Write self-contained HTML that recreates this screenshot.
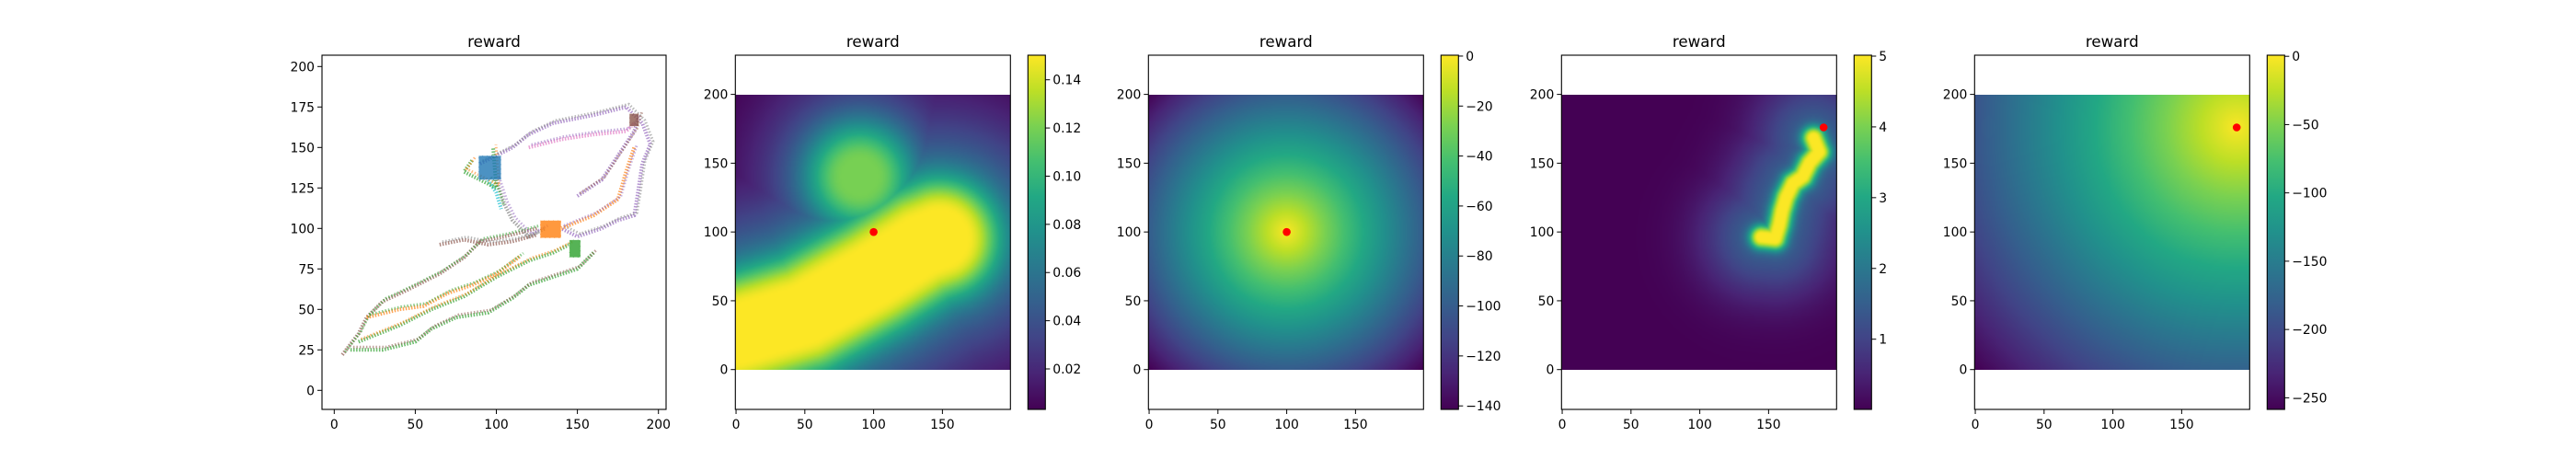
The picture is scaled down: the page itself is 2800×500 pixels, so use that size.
<!DOCTYPE html>
<html><head><meta charset="utf-8">
<style>
html,body{margin:0;padding:0;background:#fff;}
#wrap{position:relative;width:2800px;height:500px;overflow:hidden;}
canvas{position:absolute;}
svg{position:absolute;left:0;top:0;}
text{font-family:"DejaVu Sans","Liberation Sans",sans-serif;fill:#000;}
</style></head>
<body>
<div id="wrap">
<canvas id="c2" width="200" height="200"></canvas>
<canvas id="c3" width="200" height="200"></canvas>
<canvas id="c4" width="200" height="200"></canvas>
<canvas id="c5" width="200" height="200"></canvas>
<svg id="svg" width="2800" height="500" xmlns="http://www.w3.org/2000/svg"></svg>
</div>
<script>
// ---------- data ----------
const xTicks1 = [0, 50, 100, 150, 200];
const yTicks1 = [0, 25, 50, 75, 100, 125, 150, 175, 200];
const xTicksImg = [0, 50, 100, 150];
const yTicksImg = [0, 50, 100, 150, 200];
const cbarTicks2 = [0.02, 0.04, 0.06, 0.08, 0.10, 0.12, 0.14];
const cbarLabels2 = ["0.02","0.04","0.06","0.08","0.10","0.12","0.14"];
const cbarTicks3 = [0, -20, -40, -60, -80, -100, -120, -140];
const cbarTicks4 = [1, 2, 3, 4, 5];
const cbarTicks5 = [0, -50, -100, -150, -200, -250];
const cbarRange2 = [0.0032, 0.1502];
const cbarRange3 = [-141.4, 0.35];
const cbarRange4 = [0.008, 5.013];
const cbarRange5 = [-258.5, 0.8];
// panel 1 trajectories
const trajColors = ["#2ca02c","#9467bd","#ff7f0e","#8c564b","#2ca02c","#7f7f7f","#17becf","#9467bd","#8c564b","#ff7f0e","#e377c2","#2ca02c"];
const trajAlt = ["#8c564b","#7f7f7f","#9467bd","#2ca02c","#ff7f0e","#9467bd","#2ca02c","#8c564b","#7f7f7f","#2ca02c","#9467bd","#ff7f0e"];
const trajX = [
 [10,30,50,60,75,95,110,120,135,150,160],
 [90,110,120,135,160,180,190,195,190,187,185,175,165,150,140],
 [140,160,175,180,185],
 [5,15,20,30,45,65,80,90,105,125],
 [15,40,60,80,100,120,135,145],
 [100,105,110,120,130],
 [95,100,103],
 [150,165,175,185,188],
 [65,80,95,110,125],
 [20,40,55,70,85,100,115],
 [120,140,160,180,185],
 [85,80,90,100,98]
];
const trajY = [
 [25,25,30,38,45,48,57,65,70,75,85],
 [140,150,158,165,170,175,165,152,140,120,108,105,100,95,100],
 [100,108,118,135,150],
 [22,35,45,55,62,72,82,92,95,100],
 [30,40,50,58,70,80,85,90],
 [130,115,105,95,100],
 [130,122,112],
 [120,130,145,160,170],
 [90,93,90,92,96],
 [45,50,52,60,65,72,83],
 [150,155,158,160,165],
 [142,135,130,125,150]
];
const blobColors = ["#1f77b4","#ff7f0e","#2ca02c","#8c564b"];
const blobX0 = [89,127,145,182];
const blobX1 = [103,140,152,188];
const blobY0 = [130,94,82,163];
const blobY1 = [145,105,93,171];
// panel 2 field
const bandX = [0,50,100,135,148];
const bandY = [25,40,68,90,95];
const p2BlobX = [90];
const p2BlobY = [140];
const p2BlobAmp = [0.12];
const p2Peak = 0.15;
// goals
const goal3 = [100,100];
const goal5 = [190,176];
const goal2 = [100,100];
const goal4 = [190,176];
// panel 4 path
const p4PathX = [145,155,158,160,163,168,175,180,187,183];
const p4PathY = [96,95,105,115,125,135,140,150,158,168];
const p4Peak = 5;

// ---------- helpers ----------
const NS = "http://www.w3.org/2000/svg";
const svg = document.getElementById('svg');
function mk(tag, attrs, parent){const e=document.createElementNS(NS,tag);for(const k in attrs)e.setAttribute(k,attrs[k]);(parent||svg).appendChild(e);return e;}
const vir = [[0,"#440154"],[0.1,"#482475"],[0.2,"#414487"],[0.3,"#355f8d"],[0.4,"#2a788e"],[0.5,"#21918c"],[0.6,"#22a884"],[0.7,"#44bf70"],[0.8,"#7ad151"],[0.9,"#bddf26"],[1,"#fde725"]];
const virRGB = vir.map(s=>[s[0],parseInt(s[1].substr(1,2),16),parseInt(s[1].substr(3,2),16),parseInt(s[1].substr(5,2),16)]);
function viridis(t){t=Math.max(0,Math.min(1,t));for(let i=1;i<virRGB.length;i++){if(t<=virRGB[i][0]){const a=virRGB[i-1],b=virRGB[i];const f=(t-a[0])/(b[0]-a[0]);return [a[1]+(b[1]-a[1])*f,a[2]+(b[2]-a[2])*f,a[3]+(b[3]-a[3])*f];}}return virRGB[virRGB.length-1].slice(1);}
function segDist(px,py,xs,ys){let best=1e9;for(let i=0;i<xs.length-1;i++){const ax=xs[i],ay=ys[i],bx=xs[i+1],by=ys[i+1];const dx=bx-ax,dy=by-ay;let t=((px-ax)*dx+(py-ay)*dy)/(dx*dx+dy*dy);t=Math.max(0,Math.min(1,t));const ex=ax+t*dx-px,ey=ay+t*dy-py;const d=Math.sqrt(ex*ex+ey*ey);if(d<best)best=d;}return best;}

// ---------- geometry ----------
const TOP=60, BOT=445;
const imgL = [799.3,1248.3,1697.3,2146.3];
const IMW = 299;
const ipx = 1.4955;
function imgX(p,v){return imgL[p]+(v+0.5)*ipx;}
function imgY(v){return 402.45-(v+0.5)*ipx;}

function title(cx){const t=mk('text',{x:cx,y:51,'text-anchor':'middle','font-size':'16.7'});t.textContent='reward';}

// ---------- panel 1 ----------
(function(){
 const L=350,R=724;
 const sx=v=>363.3+v*1.762, sy=v=>424.3-v*1.76;
 const g=mk('g',{});
 
 
 for(let k=0;k<trajX.length;k++){
  const pts=trajX[k].map((x,i)=>sx(x).toFixed(1)+','+sy(trajY[k][i]).toFixed(1)).join(' ');
  const pts2=trajX[k].map((x,i)=>(sx(x)+3).toFixed(1)+','+(sy(trajY[k][i])-3).toFixed(1)).join(' ');
  const pl=mk('polyline',{points:pts,fill:'none',stroke:trajColors[k],'stroke-width':'4','stroke-dasharray':'1.5 1.6','stroke-opacity':'0.7'},g);
  
  
  const pl2=mk('polyline',{points:pts2,fill:'none',stroke:trajAlt[k],'stroke-width':'3','stroke-dasharray':'1.5 2','stroke-opacity':'0.55'},g);
  
  
 }
 for(let k=0;k<blobX0.length;k++){
  const r=mk('rect',{x:sx(blobX0[k]),y:sy(blobY1[k]),width:sx(blobX1[k])-sx(blobX0[k]),height:sy(blobY0[k])-sy(blobY1[k]),fill:blobColors[k],'fill-opacity':'0.8',stroke:'#fff','stroke-width':'0.6','stroke-dasharray':'4 1'},g);
  
  
 }
 const f=mk('rect',{x:L,y:TOP,width:R-L,height:BOT-TOP,fill:'none',stroke:'#000','stroke-width':'1.1'});
 
 
 xTicks1.forEach(v=>{const x=sx(v);mk('line',{x1:x,x2:x,y1:BOT,y2:BOT+5,stroke:'#000'});const t=mk('text',{x:x,y:466,'text-anchor':'middle','font-size':'13.9'});t.textContent=v;});
 yTicks1.forEach(v=>{const y=sy(v);mk('line',{x1:L-5,x2:L,y1:y,y2:y,stroke:'#000'});const t=mk('text',{x:L-8,y:y+5,'text-anchor':'end','font-size':'13.9'});t.textContent=v;});
 title((L+R)/2);
})();

// ---------- fields ----------
function falloff(e,s1,s2){return 0.55*Math.exp(-e*e/(2*s1*s1))+0.45*Math.exp(-e*e/(2*s2*s2));}
function field2(x,y){
 const d=segDist(x,y,bandX,bandY);const e=Math.max(0,d-20);
 let v=p2Peak*falloff(e,17,50);
 for(let k=0;k<p2BlobX.length;k++){const dx=x-p2BlobX[k],dy=y-p2BlobY[k];const e2=Math.max(0,Math.sqrt(dx*dx+dy*dy)-12);v=Math.max(v,p2BlobAmp[k]*falloff(e2,20,45));}
 return v;
}
function field3(x,y){return -Math.hypot(x-goal3[0],y-goal3[1]);}
function field5(x,y){return -Math.hypot(x-goal5[0],y-goal5[1]);}
function field4(x,y){
 const d=segDist(x,y,p4PathX,p4PathY);
 const e=Math.max(0,d-2.5);
 const v=p4Peak*Math.exp(-e*e/(2*4.5*4.5));
 const b=1.6*Math.exp(-d*d/(2*30*30));
 return Math.min(p4Peak,v+b*(1-v/p4Peak));
}
function drawHeat(id,p,fn,range){
 const c=document.getElementById(id);
 c.style.left=imgL[p]+'px';c.style.top=(imgY(199.5))+'px';c.style.width=IMW+'px';c.style.height=(200*ipx)+'px';
 const ctx=c.getContext('2d');const im=ctx.createImageData(200,200);
 for(let j=0;j<200;j++){for(let i=0;i<200;i++){const y=199-j;const v=fn(i,y);const col=viridis((v-range[0])/(range[1]-range[0]));const o=(j*200+i)*4;im.data[o]=col[0];im.data[o+1]=col[1];im.data[o+2]=col[2];im.data[o+3]=255;}}
 ctx.putImageData(im,0,0);
}
drawHeat('c2',0,field2,cbarRange2);
drawHeat('c3',1,field3,cbarRange3);
drawHeat('c4',2,field4,cbarRange4);
drawHeat('c5',3,field5,cbarRange5);

const defs=mk('defs',{});
const lg=mk('linearGradient',{id:'vir',x1:'0',y1:'1',x2:'0',y2:'0'},defs);
vir.forEach(s=>mk('stop',{offset:s[0],'stop-color':s[1]},lg));

const goals=[goal2,goal3,goal4,goal5];
const cbTicks=[cbarTicks2,cbarTicks3,cbarTicks4,cbarTicks5];
const cbRanges=[cbarRange2,cbarRange3,cbarRange4,cbarRange5];
for(let p=0;p<4;p++){
 const L=imgL[p];
 const dot=mk('circle',{cx:imgX(p,goals[p][0]),cy:imgY(goals[p][1]),r:4.3,fill:'#ff0000'});
 
 
 const f=mk('rect',{x:L,y:TOP,width:IMW,height:BOT-TOP,fill:'none',stroke:'#000','stroke-width':'1.1'});
 
 
 xTicksImg.forEach(v=>{const x=imgX(p,v);mk('line',{x1:x,x2:x,y1:BOT,y2:BOT+5,stroke:'#000'});const t=mk('text',{x:x,y:466,'text-anchor':'middle','font-size':'13.9'});t.textContent=v;});
 yTicksImg.forEach(v=>{const y=imgY(v);mk('line',{x1:L-5,x2:L,y1:y,y2:y,stroke:'#000'});const t=mk('text',{x:L-8,y:y+5,'text-anchor':'end','font-size':'13.9'});t.textContent=v;});
 title(L+IMW/2);
 const cL=L+318,cW=19;
 const cb=mk('rect',{x:cL,y:TOP,width:cW,height:BOT-TOP,fill:'url(#vir)',stroke:'#000','stroke-width':'1.1'});
 
 
 const rg=cbRanges[p];
 cbTicks[p].forEach((v,i)=>{
  const y=BOT-(v-rg[0])/(rg[1]-rg[0])*(BOT-TOP);
  mk('line',{x1:cL+cW,x2:cL+cW+5,y1:y,y2:y,stroke:'#000'});
  const t=mk('text',{x:cL+cW+8,y:y+5,'font-size':'13.9'});
  t.textContent=(p===0)?cbarLabels2[i]:String(v).replace('-','\u2212');
  
  
 });
}
</script>
</body></html>
